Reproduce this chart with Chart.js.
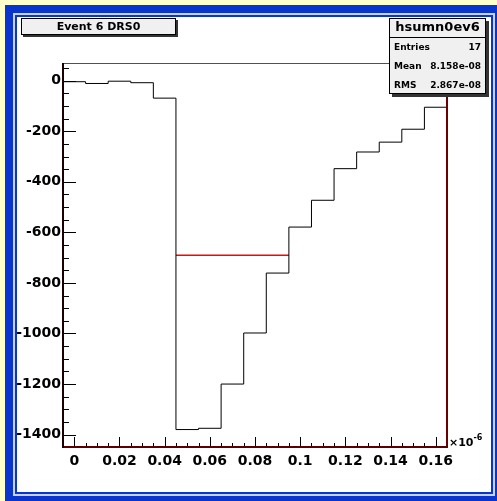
<!DOCTYPE html>
<html>
<head>
<meta charset="utf-8">
<script src="https://cdn.jsdelivr.net/npm/chart.js@4.4.1/dist/chart.umd.min.js"></script>
<style>
  html, body { margin: 0; padding: 0; background: #ffffcc; }
  canvas { display: block; }
</style>
</head>
<body>
<canvas id="histCanvas" width="497" height="501"></canvas>
<script>
// histogram hsumn0ev6: 17 bins of 0.01 (x10^-6) from -0.005 to 0.165
const binLowEdges = [-0.005, 0.005, 0.015, 0.025, 0.035, 0.045, 0.055, 0.065, 0.075,
                     0.085, 0.095, 0.105, 0.115, 0.125, 0.135, 0.145, 0.155];
const binContents = [-4, -11, -2, -8, -69, -1380, -1375, -1200, -998,
                     -761, -579, -473, -348, -282, -243, -192, -105];
const histXMin = -0.005;
const histXMax = 0.165;

// red marker line
const markerX = [0.045, 0.095];
const markerY = -690;

const xTickValues = [0, 0.02, 0.04, 0.06, 0.08, 0.1, 0.12, 0.14, 0.16];
const yTickValues = [0, -200, -400, -600, -800, -1000, -1200, -1400];
const yMin = -1449;
const yMax = 70;

const histTitle = "Event 6 DRS0";
const statsName = "hsumn0ev6";
const statsRows = [["Entries", "17"], ["Mean", "8.158e-08"], ["RMS", "2.867e-08"]];

const FONT = "'DejaVu Sans', 'Liberation Sans', sans-serif";

// one point per low edge, held until the next edge; closing point at the upper limit
const histPoints = binLowEdges.map((x, i) => ({ x: x, y: binContents[i] }));
histPoints.push({ x: histXMax, y: binContents[binContents.length - 1] });

// canvas frame: yellow background, blue bevel, white pad
const padBackground = {
  id: "padBackground",
  beforeDraw(chart) {
    const ctx = chart.ctx;
    ctx.save();
    ctx.fillStyle = "#ffffcc";
    ctx.fillRect(0, 0, 497, 501);
    ctx.fillStyle = "#0a35cc";
    ctx.fillRect(5, 5, 492, 496);
    ctx.fillStyle = "#c8d0f4";
    ctx.fillRect(13, 13, 482, 483);
    ctx.fillStyle = "#0a35cc";
    ctx.fillRect(15, 15, 478, 479);
    ctx.fillStyle = "#ffffff";
    ctx.fillRect(17, 17, 474, 475);
    ctx.restore();
  }
};

// frame, inward ticks, title box and stats box
const rootDecor = {
  id: "rootDecor",
  afterDraw(chart) {
    const ctx = chart.ctx;
    const a = chart.chartArea;
    const xs = chart.scales.x;
    const ys = chart.scales.y;
    ctx.save();

    // ticks on the x axis
    ctx.strokeStyle = "#000";
    ctx.lineWidth = 1;
    ctx.beginPath();
    for (let k = 0; k <= 33; k++) {
      const v = -0.005 + k * 0.005;
      if (v > histXMax + 1e-9) break;
      const px = Math.round(xs.getPixelForValue(v)) + 0.5;
      const major = Math.abs(v / 0.02 - Math.round(v / 0.02)) < 1e-6;
      ctx.moveTo(px, a.bottom);
      ctx.lineTo(px, a.bottom - (major ? 10 : 4));
    }
    // ticks on the y axis
    for (let v = -1400; v <= 50; v += 50) {
      const py = Math.round(ys.getPixelForValue(v)) + 0.5;
      const major = v % 200 === 0;
      ctx.moveTo(a.left, py);
      ctx.lineTo(a.left + (major ? 13 : 6), py);
    }
    ctx.stroke();

    // frame
    ctx.lineWidth = 1;
    ctx.strokeStyle = "#a03030";
    ctx.beginPath();
    ctx.moveTo(a.left, a.top + 0.5);
    ctx.lineTo(a.right, a.top + 0.5);
    ctx.stroke();
    ctx.lineWidth = 2;
    ctx.strokeStyle = "#6b0000";
    ctx.beginPath();
    ctx.moveTo(a.right, a.top);
    ctx.lineTo(a.right, a.bottom);
    ctx.stroke();
    ctx.strokeStyle = "#5a0000";
    ctx.beginPath();
    ctx.moveTo(a.left, a.bottom);
    ctx.lineTo(a.right + 1, a.bottom);
    ctx.stroke();
    ctx.strokeStyle = "#1a0000";
    ctx.beginPath();
    ctx.moveTo(a.left, a.top);
    ctx.lineTo(a.left, a.bottom + 1);
    ctx.stroke();

    // axis exponent
    ctx.fillStyle = "#000";
    ctx.textBaseline = "alphabetic";
    ctx.textAlign = "left";
    ctx.font = "bold 11px " + FONT;
    ctx.fillText("\u00d710", a.right + 2, a.bottom - 1);
    const w = ctx.measureText("\u00d710").width;
    ctx.font = "bold 8px " + FONT;
    ctx.fillText("-6", a.right + 2 + w, a.bottom - 7);

    // title box
    ctx.fillStyle = "#333";
    ctx.fillRect(23, 20, 155, 17);
    ctx.fillStyle = "#f0f0f0";
    ctx.fillRect(21, 18, 155, 17);
    ctx.lineWidth = 1;
    ctx.strokeStyle = "#000";
    ctx.strokeRect(21.5, 18.5, 154, 16);
    ctx.fillStyle = "#000";
    ctx.font = "bold 11px " + FONT;
    ctx.textAlign = "center";
    ctx.textBaseline = "middle";
    ctx.fillText(histTitle, 98.5, 27);

    // stats box
    const sx = 389, sy = 18, sw = 97, sh = 76;
    ctx.fillStyle = "#333";
    ctx.fillRect(sx + 3, sy + 3, sw, sh);
    ctx.fillStyle = "#f0f0f0";
    ctx.fillRect(sx, sy, sw, sh);
    ctx.strokeStyle = "#000";
    ctx.strokeRect(sx + 0.5, sy + 0.5, sw - 1, sh - 1);
    ctx.beginPath();
    ctx.moveTo(sx, sy + 19.5);
    ctx.lineTo(sx + sw, sy + 19.5);
    ctx.stroke();
    ctx.fillStyle = "#000";
    ctx.font = "bold 13px " + FONT;
    ctx.textAlign = "center";
    ctx.fillText(statsName, sx + sw / 2, sy + 10);
    ctx.font = "bold 9px " + FONT;
    statsRows.forEach((row, i) => {
      const ry = 47.5 + i * 19;
      ctx.textAlign = "left";
      ctx.fillText(row[0], 394, ry);
      ctx.textAlign = "right";
      ctx.fillText(row[1], 481, ry);
    });

    ctx.restore();
  }
};

const ctx = document.getElementById("histCanvas").getContext("2d");

new Chart(ctx, {
  type: "line",
  data: {
    datasets: [
      {
        label: statsName,
        data: histPoints,
        stepped: "before",
        borderColor: "#000000",
        borderWidth: 1,
        pointRadius: 0,
        fill: false
      },
      {
        label: "marker",
        data: markerX.map(x => ({ x: x, y: markerY })),
        borderColor: "#ff0000",
        borderWidth: 1.5,
        pointRadius: 0,
        fill: false
      }
    ]
  },
  options: {
    responsive: false,
    animation: false,
    layout: { padding: { top: 63, right: 50, left: 0, bottom: 0 } },
    plugins: {
      legend: { display: false },
      tooltip: { enabled: false }
    },
    scales: {
      x: {
        type: "linear",
        min: histXMin,
        max: histXMax,
        afterBuildTicks: s => { s.ticks = xTickValues.map(v => ({ value: v })); },
        afterFit: s => { s.height = 54; },
        grid: { display: false, drawTicks: false },
        border: { display: false },
        ticks: {
          autoSkip: false,
          maxRotation: 0,
          padding: 6,
          color: "#000",
          font: { family: FONT, size: 14, weight: "bold" },
          callback: v => String(v)
        }
      },
      y: {
        min: yMin,
        max: yMax,
        afterBuildTicks: s => { s.ticks = yTickValues.map(v => ({ value: v })); },
        afterFit: s => { s.width = 63; },
        grid: { display: false, drawTicks: false },
        border: { display: false },
        ticks: {
          padding: 2,
          color: "#000",
          font: { family: FONT, size: 14, weight: "bold" },
          callback: v => String(v)
        }
      }
    }
  },
  plugins: [padBackground, rootDecor]
});
</script>
</body>
</html>
